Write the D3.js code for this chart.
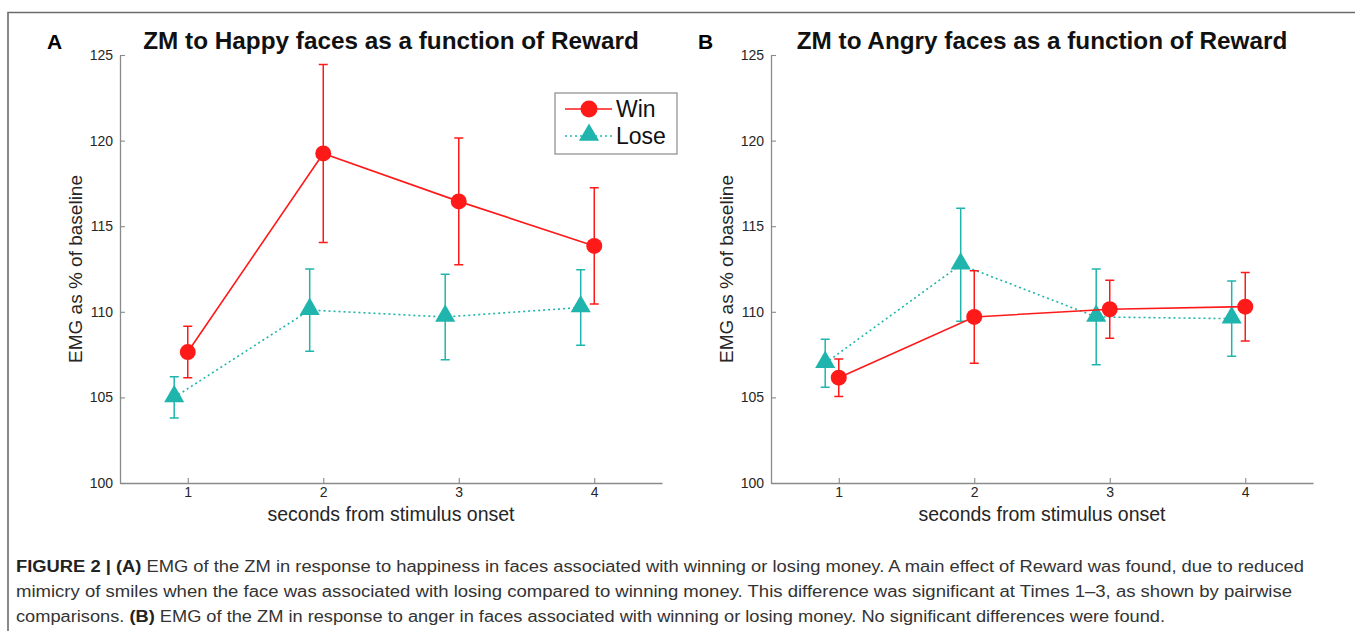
<!DOCTYPE html>
<html>
<head>
<meta charset="utf-8">
<script src="https://cdn.jsdelivr.net/npm/d3@7"></script>
<style>
  body { margin: 0; background: #fff; }
  svg { display: block; font-family: "Liberation Sans", Arial, Helvetica, sans-serif; }
</style>
</head>
<body>
<script>
//Variables
const width = 1355;
const height = 631;

//Data
const seconds = [1, 2, 3, 4];
const yTicks = [100, 105, 110, 115, 120, 125];

const happyWin = [107.65, 119.25, 116.45, 113.85];
const happyWinErr = [1.5, 5.2, 3.7, 3.4];
const happyLose = [105.0, 110.1, 109.7, 110.25];
const happyLoseErr = [1.2, 2.4, 2.5, 2.2];

const angryWin = [106.15, 109.7, 110.15, 110.3];
const angryWinErr = [1.1, 2.7, 1.7, 2.0];
const angryLose = [107.0, 112.75, 109.7, 109.6];
const angryLoseErr = [1.4, 3.3, 2.8, 2.2];

const panels = [
    {letter: "A", title: "ZM to Happy faces as a function of Reward", left: 120, win: happyWin, winErr: happyWinErr, lose: happyLose, loseErr: happyLoseErr, legend: true},
    {letter: "B", title: "ZM to Angry faces as a function of Reward", left: 771, win: angryWin, winErr: angryWinErr, lose: angryLose, loseErr: angryLoseErr, legend: false}
];

const winColor = "#ff1a1a";
const loseColor = "#1fb5ad";

const svg = d3.select("body")
    .append("svg")
    .attr("width", width)
    .attr("height", height);

//Frame
svg.append("path")
    .attr("d", `M8,${height} L8,12.5 L${width},12.5`)
    .attr("fill", "none")
    .attr("stroke", "#6b6b6b")
    .attr("stroke-width", 1.6);

const triangle = d3.symbol().type(d3.symbolTriangle).size(175);

const drawPanel = p => {
    const g = svg.append("g");

    const xScale = d3.scaleLinear()
        .domain([0.5, 4.5])
        .range([p.left, p.left + 542]);

    const yScale = d3.scaleLinear()
        .domain([100, 125])
        .range([483, 55]);

    //Axes
    const xAxis = d3.axisBottom(xScale)
        .tickValues(seconds)
        .tickSizeInner(-5)
        .tickSizeOuter(0)
        .tickPadding(4)
        .tickFormat(d3.format("d"));

    const yAxis = d3.axisLeft(yScale)
        .tickValues(yTicks)
        .tickSizeInner(-5)
        .tickSizeOuter(0)
        .tickPadding(7);

    const gx = g.append("g")
        .attr("transform", `translate(0, ${yScale(100)})`)
        .call(xAxis);

    const gy = g.append("g")
        .attr("transform", `translate(${p.left}, 0)`)
        .call(yAxis);

    [gx, gy].forEach(a => {
        a.attr("font-family", null).attr("font-size", 14);
        a.select(".domain").attr("stroke", "#8a8a8a").attr("stroke-width", 1.3);
        a.selectAll(".tick line").attr("stroke", "#8a8a8a").attr("stroke-width", 1.1);
        a.selectAll(".tick text").attr("fill", "#262626");
    });

    //Labels
    g.append("text")
        .text(p.letter)
        .attr("x", p.left - 73)
        .attr("y", 49)
        .style("font-weight", "bold")
        .style("font-size", "21px");

    g.append("text")
        .text(p.title)
        .attr("x", xScale(2.5))
        .attr("y", 49)
        .attr("text-anchor", "middle")
        .style("font-weight", "bold")
        .style("font-size", "24.3px")
        .attr("fill", "#111");

    g.append("text")
        .text("seconds from stimulus onset")
        .attr("x", xScale(2.5))
        .attr("y", 521)
        .attr("text-anchor", "middle")
        .style("font-size", "19.5px")
        .attr("fill", "#262626");

    g.append("text")
        .text("EMG as % of baseline")
        .attr("transform", `translate(${p.left - 38}, ${yScale(112.5)}) rotate(-90)`)
        .attr("text-anchor", "middle")
        .style("font-size", "19px")
        .attr("fill", "#262626");

    //Series
    const series = [
        {values: p.lose, err: p.loseErr, offset: -0.1, color: loseColor, dash: "2,3", marker: "triangle"},
        {values: p.win, err: p.winErr, offset: 0, color: winColor, dash: null, marker: "circle"}
    ];

    series.forEach(s => {
        const pts = seconds.map((t, i) => ({x: t + s.offset, y: s.values[i], e: s.err[i]}));

        g.append("path")
            .datum(pts)
            .attr("fill", "none")
            .attr("stroke", s.color)
            .attr("stroke-width", 1.6)
            .attr("stroke-dasharray", s.dash)
            .attr("d", d3.line().x(d => xScale(d.x)).y(d => yScale(d.y)));

        const bars = g.append("g")
            .attr("stroke", s.color)
            .attr("stroke-width", 1.5);

        bars.selectAll(".bar")
            .data(pts)
            .enter()
            .append("path")
            .attr("fill", "none")
            .attr("d", d => {
                const x = xScale(d.x);
                const y0 = yScale(d.y - d.e);
                const y1 = yScale(d.y + d.e);
                return `M${x},${y0}V${y1}M${x - 4.5},${y0}H${x + 4.5}M${x - 4.5},${y1}H${x + 4.5}`;
            });

        if (s.marker === "circle") {
            g.selectAll(null)
                .data(pts)
                .enter()
                .append("circle")
                .attr("cx", d => xScale(d.x))
                .attr("cy", d => yScale(d.y))
                .attr("r", 8)
                .attr("fill", s.color);
        } else {
            g.selectAll(null)
                .data(pts)
                .enter()
                .append("path")
                .attr("d", triangle)
                .attr("transform", d => `translate(${xScale(d.x)}, ${yScale(d.y) - 1})`)
                .attr("fill", s.color);
        }
    });

    //Legend
    if (p.legend) {
        const lg = g.append("g").attr("transform", "translate(555, 93)");
        lg.append("rect")
            .attr("width", 122)
            .attr("height", 61)
            .attr("fill", "#fff")
            .attr("stroke", "#8a8a8a")
            .attr("stroke-width", 1.2);

        const items = [
            {label: "Win", color: winColor, dash: null, marker: "circle"},
            {label: "Lose", color: loseColor, dash: "2,3", marker: "triangle"}
        ];

        items.forEach((it, i) => {
            const y = 16 + i * 27;
            lg.append("line")
                .attr("x1", 10).attr("x2", 57)
                .attr("y1", y).attr("y2", y)
                .attr("stroke", it.color)
                .attr("stroke-width", 1.6)
                .attr("stroke-dasharray", it.dash);
            if (it.marker === "circle") {
                lg.append("circle").attr("cx", 34).attr("cy", y).attr("r", 8.5).attr("fill", it.color);
            } else {
                lg.append("path").attr("d", triangle).attr("transform", `translate(34, ${y - 1})`).attr("fill", it.color);
            }
            lg.append("text")
                .text(it.label)
                .attr("x", 61)
                .attr("y", y + 8)
                .style("font-size", "23px")
                .attr("fill", "#111");
        });
    }
};

panels.forEach(drawPanel);

//Caption
const captionLines = [
    [{t: "FIGURE 2 | (A)", b: true}, {t: " EMG of the ZM in response to happiness in faces associated with winning or losing money. A main effect of Reward was found, due to reduced"}],
    [{t: "mimicry of smiles when the face was associated with losing compared to winning money. This difference was significant at Times 1–3, as shown by pairwise"}],
    [{t: "comparisons. "}, {t: "(B)", b: true}, {t: " EMG of the ZM in response to anger in faces associated with winning or losing money. No significant differences were found."}]
];
const captionWidths = [1288, 1276, 1149];

captionLines.forEach((line, i) => {
    const txt = svg.append("text")
        .attr("x", 16)
        .attr("y", 572 + i * 25)
        .attr("textLength", captionWidths[i])
        .attr("lengthAdjust", "spacingAndGlyphs")
        .style("font-size", "16px")
        .attr("fill", "#333");
    line.forEach(seg => {
        txt.append("tspan")
            .text(seg.t)
            .style("font-weight", seg.b ? "bold" : "normal")
            .attr("fill", seg.b ? "#222" : "#333");
    });
});
</script>
</body>
</html>
